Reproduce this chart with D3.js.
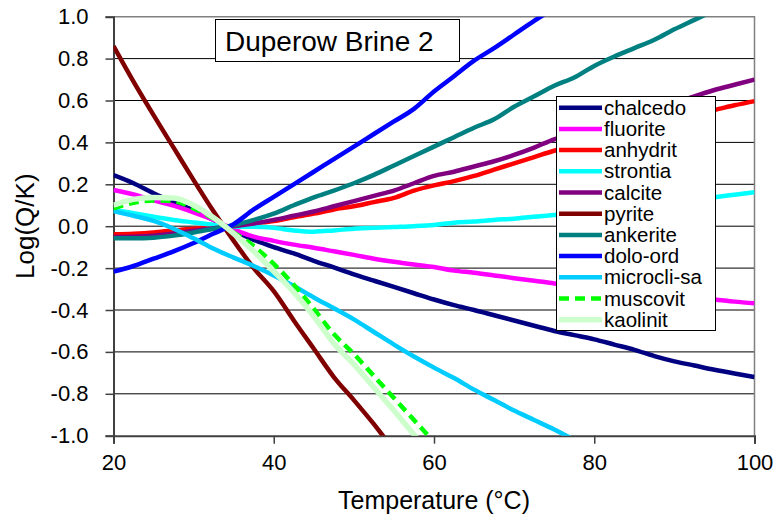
<!DOCTYPE html>
<html>
<head>
<meta charset="utf-8">
<script src="https://cdn.jsdelivr.net/npm/d3@7"></script>
<style>
  body { margin: 0; background: #fff; }
  svg text { font-family: Arial, "Liberation Sans", sans-serif; fill: #000; }
</style>
</head>
<body>
<svg id="chart" width="777" height="523"></svg>
<script>
// Saturation index of minerals versus temperature
const temperature = [20, 22.5, 25, 27.5, 30, 32.5, 35, 37.5, 40, 42.5, 45, 47.5, 50, 52.5, 55, 57.5,
  60, 62.5, 65, 67.5, 70, 72.5, 75, 77.5, 80, 82.5, 85, 87.5, 90, 92.5, 95, 97.5, 100];

const chalcedo = [0.244, 0.205, 0.157, 0.115, 0.077, 0.03, -0.02, -0.065, -0.1, -0.13, -0.165, -0.197,
  -0.23, -0.26, -0.29, -0.32, -0.35, -0.377, -0.4, -0.425, -0.45, -0.475, -0.5, -0.52, -0.54, -0.565,
  -0.59, -0.62, -0.645, -0.665, -0.685, -0.703, -0.72];
const fluorite = [0.173, 0.152, 0.123, 0.098, 0.066, 0.03, -0.015, -0.05, -0.07, -0.088, -0.103, -0.12,
  -0.137, -0.155, -0.17, -0.183, -0.195, -0.212, -0.222, -0.235, -0.248, -0.26, -0.273, -0.283, -0.293,
  -0.303, -0.313, -0.322, -0.332, -0.342, -0.35, -0.36, -0.368];
const anhydrit = [-0.039, -0.036, -0.03, -0.02, -0.012, -0.004, 0.0, 0.013, 0.025, 0.043, 0.06, 0.08,
  0.095, 0.115, 0.135, 0.17, 0.195, 0.215, 0.24, 0.27, 0.3, 0.33, 0.36, 0.385, 0.41, 0.435, 0.46, 0.485,
  0.51, 0.535, 0.555, 0.577, 0.597];
const strontia = [0.077, 0.062, 0.045, 0.03, 0.018, 0.006, -0.003, -0.003, -0.008, -0.02, -0.026, -0.02,
  -0.012, -0.008, -0.004, 0.0, 0.006, 0.017, 0.022, 0.03, 0.036, 0.045, 0.053, 0.062, 0.07, 0.08, 0.09,
  0.1, 0.11, 0.125, 0.138, 0.15, 0.162];
const calcite = [-0.052, -0.05, -0.045, -0.035, -0.022, -0.01, 0.0, 0.013, 0.03, 0.05, 0.07, 0.095,
  0.12, 0.145, 0.17, 0.205, 0.24, 0.26, 0.285, 0.31, 0.34, 0.375, 0.415, 0.44, 0.47, 0.5, 0.53, 0.56,
  0.59, 0.62, 0.65, 0.675, 0.7];
const pyrite = [0.86, 0.69, 0.53, 0.375, 0.22, 0.07, -0.07, -0.2, -0.31, -0.45, -0.585, -0.72, -0.83,
  -0.945, -1.07, null, null, null, null, null, null, null, null, null, null, null, null, null, null,
  null, null, null, null];
const ankerite = [-0.058, -0.058, -0.055, -0.045, -0.03, -0.012, 0.005, 0.03, 0.06, 0.1, 0.138, 0.17,
  0.205, 0.245, 0.29, 0.335, 0.38, 0.425, 0.47, 0.51, 0.57, 0.62, 0.67, 0.71, 0.765, 0.81, 0.85, 0.89,
  0.94, 0.985, 1.03, null, null];
const doloOrd = [-0.217, -0.19, -0.155, -0.12, -0.08, -0.035, 0.01, 0.08, 0.14, 0.2, 0.26, 0.32, 0.38,
  0.44, 0.5, 0.56, 0.643, 0.716, 0.79, 0.85, 0.915, 0.98, 1.04, null, null, null, null, null, null,
  null, null, null, null];
const microcliSa = [0.072, 0.05, 0.025, -0.012, -0.058, -0.108, -0.15, -0.19, -0.235, -0.285, -0.34,
  -0.392, -0.445, -0.505, -0.565, -0.622, -0.675, -0.725, -0.78, -0.83, -0.88, -0.925, -0.97, -1.02, null,
  null, null, null, null, null, null, null, null];
const muscovit = [0.085, 0.112, 0.123, 0.12, 0.085, 0.035, -0.03, -0.095, -0.18, -0.28, -0.395, -0.515,
  -0.61, -0.715, -0.82, -0.925, -1.03, null, null, null, null, null, null, null, null, null, null, null,
  null, null, null, null, null];
const kaolinit = [0.1, 0.128, 0.137, 0.135, 0.1, 0.04, -0.035, -0.12, -0.215, -0.315, -0.43, -0.56,
  -0.66, -0.77, -0.88, -0.995, -1.1, null, null, null, null, null, null, null, null, null, null, null,
  null, null, null, null, null];

const seriesNames = ["chalcedo", "fluorite", "anhydrit", "strontia", "calcite", "pyrite",
  "ankerite", "dolo-ord", "microcli-sa", "muscovit", "kaolinit"];
const seriesValues = [chalcedo, fluorite, anhydrit, strontia, calcite, pyrite,
  ankerite, doloOrd, microcliSa, muscovit, kaolinit];
const seriesColors = ["#000080", "#ff00ff", "#ff0000", "#00ffff", "#800080", "#800000",
  "#008080", "#0000ff", "#00ccff", "#00ff00", "#ccffcc"];

const yTicks = [1.0, 0.8, 0.6, 0.4, 0.2, 0.0, -0.2, -0.4, -0.6, -0.8, -1.0];
const xTicks = [20, 40, 60, 80, 100];
const chartTitle = "Duperow Brine 2";
const xTitle = "Temperature (°C)";
const yTitle = "Log(Q/K)";

// ---- layout ----
const plot = { left: 113.5, right: 754.5, top: 16.7, bottom: 435.7 };
const svg = d3.select("#chart");

const x = d3.scaleLinear().domain([20, 100]).range([plot.left, plot.right]);
const y = d3.scaleLinear().domain([-1, 1]).range([plot.bottom, plot.top]);

svg.append("defs").append("clipPath").attr("id", "plot-clip")
  .append("rect")
  .attr("x", plot.left).attr("y", plot.top)
  .attr("width", plot.right - plot.left).attr("height", plot.bottom - plot.top);

// horizontal gridlines
svg.append("g").selectAll("line")
  .data(yTicks.filter(v => v > -1 && v < 1))
  .join("line")
  .attr("x1", plot.left).attr("x2", plot.right)
  .attr("y1", d => y(d)).attr("y2", d => y(d))
  .attr("stroke", "#000").attr("stroke-width", 1);

// plot frame (top and right)
svg.append("path")
  .attr("d", `M${plot.left},${y(1)}H${plot.right}V${plot.bottom}`)
  .attr("fill", "none").attr("stroke", "#808080").attr("stroke-width", 1.5);

// axes
const yAxis = svg.append("g")
  .attr("transform", `translate(${plot.left},0)`)
  .call(d3.axisLeft(y).tickValues(yTicks).tickSize(8).tickPadding(17)
    .tickFormat(d => d.toFixed(1)));
const xAxis = svg.append("g")
  .attr("transform", `translate(0,${plot.bottom})`)
  .call(d3.axisBottom(x).tickValues(xTicks).tickSize(8).tickPadding(11));

[yAxis, xAxis].forEach(a => {
  a.select(".domain").attr("stroke", "#404040").attr("stroke-width", 2);
  a.selectAll(".tick line").attr("stroke", "#404040").attr("stroke-width", 1.5);
  a.selectAll(".tick text").attr("font-size", 22).attr("fill", "#000")
    .style("font-family", "Arial, 'Liberation Sans', sans-serif");
});

// series lines
const line = d3.line()
  .defined(d => d[1] !== null)
  .x(d => x(d[0])).y(d => y(d[1]))
  .curve(d3.curveMonotoneX);

const lines = svg.append("g").attr("clip-path", "url(#plot-clip)");
seriesNames.forEach((name, i) => {
  const pts = temperature.map((t, k) => [t, seriesValues[i][k]]);
  lines.append("path")
    .attr("d", line(pts))
    .attr("fill", "none")
    .attr("stroke", seriesColors[i])
    .attr("stroke-width", name === "kaolinit" ? 5.5 : 4.5)
    .attr("stroke-linejoin", "round")
    .attr("stroke-dasharray", name === "muscovit" ? "10,6" : null);
});

// title box
const titleG = svg.append("g");
titleG.append("rect")
  .attr("x", 215.5).attr("y", 19.5).attr("width", 244).attr("height", 42)
  .attr("fill", "#fff").attr("stroke", "#000").attr("stroke-width", 1);
titleG.append("text")
  .attr("x", 225).attr("y", 51)
  .attr("font-size", 28)
  .text(chartTitle);

// legend
const leg = svg.append("g");
leg.append("rect")
  .attr("x", 556.5).attr("y", 96.5).attr("width", 159).attr("height", 234)
  .attr("fill", "#fff").attr("stroke", "#000").attr("stroke-width", 1);
seriesNames.forEach((name, i) => {
  const cy = 107.7 + i * 21.2;
  leg.append("line")
    .attr("x1", 559).attr("x2", 602).attr("y1", cy).attr("y2", cy)
    .attr("stroke", seriesColors[i])
    .attr("stroke-width", name === "kaolinit" ? 5.5 : 4.5)
    .attr("stroke-dasharray", name === "muscovit" ? "10,6" : null);
  leg.append("text")
    .attr("x", 604).attr("y", cy).attr("dy", "0.35em")
    .attr("font-size", 20.5)
    .text(name);
});

// axis titles
svg.append("text")
  .attr("x", (plot.left + plot.right) / 2).attr("y", 509)
  .attr("text-anchor", "middle").attr("font-size", 25)
  .text(xTitle);
svg.append("text")
  .attr("transform", `translate(34,${(plot.top + plot.bottom) / 2}) rotate(-90)`)
  .attr("text-anchor", "middle").attr("font-size", 26)
  .text(yTitle);
</script>
</body>
</html>
